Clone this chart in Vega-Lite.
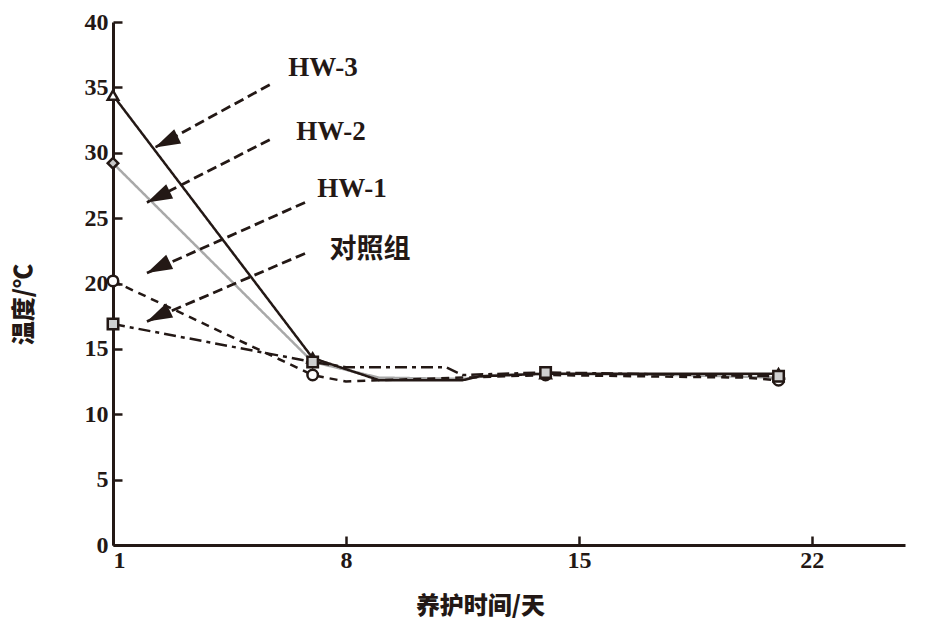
{
  "$schema": "https://vega.github.io/schema/vega-lite/v6.json",
  "autosize": {"type": "none"},
  "padding": {"left": 113, "top": 22, "right": 23, "bottom": 91},
  "width": 792,
  "height": 523,
  "background": "white",
  "config": {
    "view": {"stroke": null},
    "axis": {
      "domainColor": "#231815",
      "domainWidth": 3,
      "tickColor": "#231815",
      "tickWidth": 2.5,
      "tickSize": -9,
      "grid": false,
      "labelFont": "Liberation Serif",
      "labelFontWeight": "bold",
      "labelFontSize": 24,
      "labelColor": "#231815",
      "titleFont": "Noto Sans CJK SC",
      "titleFontWeight": 900,
      "titleFontSize": 24,
      "titleColor": "#231815"
    }
  },
  "datasets": {
    "series": [
      {"series": "HW-2", "day": 1, "temp": 29.2},
      {"series": "HW-2", "day": 7, "temp": 14.0},
      {"series": "HW-2", "day": 9, "temp": 12.8},
      {"series": "HW-2", "day": 11.5, "temp": 12.7},
      {"series": "HW-2", "day": 12.5, "temp": 13.0},
      {"series": "HW-2", "day": 14, "temp": 13.1},
      {"series": "HW-2", "day": 18, "temp": 13.0},
      {"series": "HW-2", "day": 21, "temp": 12.8},
      {"series": "HW-3", "day": 1, "temp": 34.4},
      {"series": "HW-3", "day": 7, "temp": 14.3},
      {"series": "HW-3", "day": 9, "temp": 12.6},
      {"series": "HW-3", "day": 11.5, "temp": 12.6},
      {"series": "HW-3", "day": 12, "temp": 12.9},
      {"series": "HW-3", "day": 14, "temp": 13.1},
      {"series": "HW-3", "day": 21, "temp": 13.1},
      {"series": "HW-1", "day": 1, "temp": 20.2},
      {"series": "HW-1", "day": 7, "temp": 13.0},
      {"series": "HW-1", "day": 8, "temp": 12.5},
      {"series": "HW-1", "day": 9, "temp": 12.6},
      {"series": "HW-1", "day": 14, "temp": 13.0},
      {"series": "HW-1", "day": 20, "temp": 12.8},
      {"series": "HW-1", "day": 21, "temp": 12.6},
      {"series": "对照组", "day": 1, "temp": 16.9},
      {"series": "对照组", "day": 7, "temp": 14.0},
      {"series": "对照组", "day": 8, "temp": 13.6},
      {"series": "对照组", "day": 11, "temp": 13.6},
      {"series": "对照组", "day": 11.5, "temp": 13.0},
      {"series": "对照组", "day": 14, "temp": 13.2},
      {"series": "对照组", "day": 21, "temp": 12.9}
    ],
    "arrows": [
      {"label": "HW-3", "x": 5.71, "y": 35.2, "x2": 2.26, "y2": 30.4, "lx": 7.31, "ly": 36.5},
      {"label": "HW-2", "x": 5.71, "y": 31.0, "x2": 2.02, "y2": 26.2, "lx": 7.55, "ly": 31.6},
      {"label": "HW-1", "x": 6.77, "y": 26.2, "x2": 2.02, "y2": 20.8, "lx": 8.18, "ly": 27.2},
      {"label": "对照组", "x": 6.77, "y": 22.3, "x2": 2.02, "y2": 17.1, "lx": 8.72, "ly": 22.6}
    ]
  },
  "layer": [
    {
      "data": {"name": "series"},
      "mark": {"type": "line", "strokeWidth": 2.5, "clip": true},
      "encoding": {
        "x": {
          "field": "day", "type": "quantitative",
          "scale": {"domain": [1, 24.8], "nice": false, "zero": false},
          "axis": {"values": [1, 8, 15, 22], "title": "养护时间/天", "labelPadding": 12, "titlePadding": 22, "titleX": 367}
        },
        "y": {
          "field": "temp", "type": "quantitative",
          "scale": {"domain": [0, 40], "nice": false},
          "axis": {"values": [0, 5, 10, 15, 20, 25, 30, 35, 40], "title": "温度/℃", "labelPadding": 14, "titlePadding": 48, "titleY": 282}
        },
        "detail": {"field": "series"},
        "stroke": {
          "field": "series", "type": "nominal", "legend": null,
          "scale": {"domain": ["HW-3", "HW-2", "HW-1", "对照组"], "range": ["#231815", "#a9a9a9", "#231815", "#231815"]}
        },
        "strokeDash": {
          "field": "series", "type": "nominal", "legend": null,
          "scale": {"domain": ["HW-3", "HW-2", "HW-1", "对照组"], "range": [[1, 0], [1, 0], [8, 6], [12, 5, 4, 5]]}
        }
      }
    },
    {
      "data": {"name": "series"},
      "transform": [{"filter": {"field": "day", "oneOf": [1, 7, 14, 21]}}],
      "mark": {"type": "point", "filled": false, "stroke": "#231815", "strokeWidth": 2.5, "size": 110, "opacity": 1},
      "encoding": {
        "x": {"field": "day", "type": "quantitative"},
        "y": {"field": "temp", "type": "quantitative"},
        "shape": {
          "field": "series", "type": "nominal", "legend": null,
          "scale": {"domain": ["HW-3", "HW-2", "HW-1", "对照组"], "range": ["triangle-up", "diamond", "circle", "square"]}
        },
        "fill": {
          "field": "series", "type": "nominal", "legend": null,
          "scale": {"domain": ["HW-3", "HW-2", "HW-1", "对照组"], "range": ["white", "#c8c8c8", "white", "#cfcfcf"]}
        }
      }
    },
    {
      "data": {"name": "arrows"},
      "mark": {"type": "rule", "strokeWidth": 2.8, "strokeDash": [10, 5], "color": "#231815"},
      "encoding": {
        "x": {"field": "x", "type": "quantitative"},
        "y": {"field": "y", "type": "quantitative"},
        "x2": {"field": "x2"},
        "y2": {"field": "y2"}
      }
    },
    {
      "data": {"name": "arrows"},
      "mark": {"type": "point", "filled": true, "shape": "M0,0L0.5,1.6L-0.5,1.6Z", "size": 1000, "angle": 244, "color": "#231815", "opacity": 1},
      "encoding": {
        "x": {"field": "x2", "type": "quantitative"},
        "y": {"field": "y2", "type": "quantitative"}
      }
    },
    {
      "data": {"name": "arrows"},
      "mark": {"type": "text", "font": "Liberation Serif, Noto Sans CJK SC", "fontWeight": "bold", "fontSize": 27, "color": "#231815", "align": "center", "baseline": "middle"},
      "encoding": {
        "x": {"field": "lx", "type": "quantitative"},
        "y": {"field": "ly", "type": "quantitative"},
        "text": {"field": "label"}
      }
    }
  ]
}
